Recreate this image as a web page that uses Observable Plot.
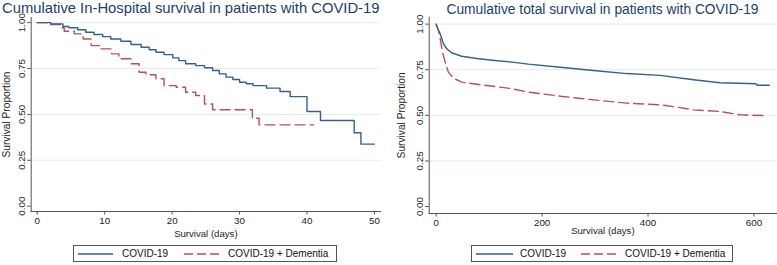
<!DOCTYPE html>
<html>
<head>
<meta charset="utf-8">
<script src="https://cdn.jsdelivr.net/npm/d3@7"></script>
<script src="https://cdn.jsdelivr.net/npm/@observablehq/plot@0.6"></script>
<style>
  body { margin: 0; background: #fff; font-family: "Liberation Sans", Arial, sans-serif; }
  #wrap { position: relative; width: 777px; height: 265px; overflow: hidden; }
  .panel { position: absolute; top: 0; height: 265px; }
  .title { position: absolute; top: 0; white-space: nowrap; line-height: 17px; color: #1a3f6b; }
  .plotbox { position: absolute; top: 12px; left: 0; }
  .plotbox svg { overflow: visible; }
  .legend { position: absolute; top: 245px; height: 17px; border: 1px solid #555; box-sizing: border-box; font-size: 10px; color: #111; }
  .legend .sw { position: absolute; top: 0; }
  .legend .lt { position: absolute; top: 2px; line-height: 12px; white-space: nowrap; }
</style>
</head>
<body>
<div id="wrap">
  <div class="panel" id="pL" style="left:0;width:388px;"></div>
  <div class="panel" id="pR" style="left:388px;width:389px;"></div>
</div>
<script>
// ---- data ----
const titles = ["Cumulative In-Hospital survival in patients with COVID-19", "Cumulative total survival in patients with COVID-19"];
const seriesNames = ["COVID-19", "COVID-19 + Dementia"];
const xLabel = "Survival (days)";
const yLabel = "Survival Proportion";
const yTicks = [0, 0.25, 0.5, 0.75, 1];
const xTicksLeft = [0, 10, 20, 30, 40, 50];
const xTicksRight = [0, 200, 400, 600];

// In-hospital (left panel) Kaplan-Meier steps
const leftCovidDays = [0, 2, 3.8, 4.7, 6, 7.2, 8.4, 9.7, 10.9, 12.4, 13.9, 15.4, 16.6, 17.6, 18.8, 20.1, 21, 22, 23.5, 24.8, 26, 27, 28, 29, 30, 31, 32, 34, 36, 37.5, 40, 42, 47, 48, 50];
const leftCovidSurv = [1, 0.993, 0.979, 0.972, 0.961, 0.948, 0.935, 0.924, 0.911, 0.899, 0.881, 0.866, 0.852, 0.839, 0.826, 0.808, 0.793, 0.776, 0.766, 0.754, 0.739, 0.721, 0.703, 0.69, 0.675, 0.667, 0.657, 0.643, 0.625, 0.597, 0.516, 0.467, 0.40, 0.338, 0.338];
const leftDemDays = [0, 2, 3.5, 4, 5.5, 6.8, 8, 9.2, 11, 12.1, 13.9, 15.1, 16.1, 17.6, 18.8, 20.6, 22, 23.5, 24.8, 26, 31.9, 32.9, 41];
const leftDemSurv = [1, 0.99, 0.972, 0.953, 0.939, 0.911, 0.875, 0.857, 0.83, 0.803, 0.776, 0.73, 0.716, 0.694, 0.657, 0.648, 0.621, 0.603, 0.557, 0.525, 0.479, 0.443, 0.443];

// Total survival (right panel)
const rightCovidDays = [0, 3, 7.5, 13.7, 20, 29, 48, 80, 111, 143, 174, 234, 297, 360, 423, 486, 536, 604, 606, 629];
const rightCovidSurv = [1, 0.975, 0.947, 0.892, 0.865, 0.843, 0.824, 0.81, 0.801, 0.792, 0.781, 0.764, 0.746, 0.729, 0.719, 0.695, 0.679, 0.673, 0.665, 0.665];
const rightDemDays = [0, 4.3, 7.5, 12, 17, 23, 32.6, 48, 80, 111, 143, 174, 234, 297, 360, 423, 455, 486, 536, 574, 617];
const rightDemSurv = [1, 0.965, 0.92, 0.846, 0.792, 0.737, 0.704, 0.682, 0.669, 0.658, 0.646, 0.627, 0.605, 0.585, 0.567, 0.558, 0.545, 0.53, 0.521, 0.503, 0.499];

const colors = ["#33618f", "#b4515b"];
const dash = "10,5";

function toRows(days, surv, s) { return days.map((d, i) => ({day: d, surv: surv[i], series: s})); }

function makePanel(el, cfg) {
  const t = document.createElement("div");
  t.className = "title";
  t.textContent = cfg.title;
  t.style.cssText = cfg.titleStyle;
  el.appendChild(t);

  const rows = [...toRows(cfg.cDays, cfg.cSurv, seriesNames[0]), ...toRows(cfg.dDays, cfg.dSurv, seriesNames[1])];
  const chart = Plot.plot({
    width: cfg.width,
    height: 231,
    marginLeft: cfg.ml,
    marginRight: cfg.mr,
    marginTop: cfg.mt,
    marginBottom: cfg.mb,
    style: {fontFamily: "'Liberation Sans', Arial, sans-serif", background: "transparent", overflow: "visible"},
    x: {domain: cfg.xDomain},
    y: {domain: cfg.yDomain},
    marks: [
      Plot.gridY(yTicks.filter(d => d > 0), {stroke: "#e3edf0", strokeOpacity: 1, strokeWidth: 1}),
      Plot.frame({anchor: "left", stroke: "#555"}),
      Plot.frame({anchor: "bottom", stroke: "#555"}),
      Plot.axisY({ticks: yTicks, tickFormat: d3.format(".2f"), tickRotate: -90, textAnchor: "middle", lineAnchor: "bottom",
                  tickSize: 3.5, tickPadding: 3, fontSize: 9.8, color: "#222", stroke: "#555", label: null}),
      Plot.axisX({ticks: cfg.xTicks, tickSize: 3.5, tickPadding: 2.5, fontSize: 9.8, color: "#222", stroke: "#555", label: null}),
      Plot.text([yLabel], {frameAnchor: "left", rotate: -90, dx: cfg.ylDx, fontSize: 10.2, fill: "#222", textAnchor: "middle", lineAnchor: "middle"}),
      Plot.text([xLabel], {frameAnchor: "bottom", dy: cfg.xlDy, fontSize: 9.6, fill: "#222", textAnchor: "middle", lineAnchor: "middle"}),
      Plot.line(rows.filter(r => r.series === seriesNames[1]), {x: "day", y: "surv", curve: cfg.curve, stroke: colors[1], strokeWidth: 1.4, strokeDasharray: dash}),
      Plot.line(rows.filter(r => r.series === seriesNames[0]), {x: "day", y: "surv", curve: cfg.curve, stroke: colors[0], strokeWidth: 1.4})
    ]
  });
  const pb = document.createElement("div");
  pb.className = "plotbox";
  pb.appendChild(chart);
  el.appendChild(pb);

  // legend
  const lg = document.createElement("div");
  lg.className = "legend";
  lg.style.left = cfg.lg.left + "px";
  lg.style.width = cfg.lg.width + "px";
  seriesNames.forEach((name, i) => {
    const sw = cfg.lg.sw[i];
    const svg = d3.create("svg").attr("class", "sw").attr("width", sw[1] - sw[0]).attr("height", 16)
      .style("left", (sw[0] - cfg.lg.left - 1) + "px");
    svg.append("line").attr("x1", 0).attr("x2", sw[1] - sw[0]).attr("y1", 8).attr("y2", 8)
      .attr("stroke", colors[i]).attr("stroke-width", 1.4).attr("stroke-dasharray", i ? "9,4" : null);
    lg.appendChild(svg.node());
    const tx = document.createElement("div");
    tx.className = "lt";
    tx.style.left = (cfg.lg.tx[i] - cfg.lg.left - 1) + "px";
    tx.textContent = name;
    lg.appendChild(tx);
  });
  el.appendChild(lg);
}

makePanel(document.getElementById("pL"), {
  title: titles[0], titleStyle: "left:2px;font-size:14.8px;",
  cDays: leftCovidDays, cSurv: leftCovidSurv, dDays: leftDemDays, dSurv: leftDemSurv,
  width: 388, ml: 30.7, mr: 8, mt: 5, mb: 32,
  xDomain: [-0.9, 50.9], yDomain: [-0.029, 1.028], xTicks: xTicksLeft,
  ylDx: -24.5, xlDy: 22.5, curve: "step-after",
  lg: {left: 73, width: 264, sw: [[78, 113], [184, 221]], tx: [122, 228]}
});
makePanel(document.getElementById("pR"), {
  title: titles[1], titleStyle: "left:0;width:389px;text-align:center;text-indent:40px;font-size:13.8px;top:1px;",
  cDays: rightCovidDays, cSurv: rightCovidSurv, dDays: rightDemDays, dSurv: rightDemSurv,
  width: 389, ml: 40.7, mr: 1, mt: 4.7, mb: 30,
  xDomain: [-13.2, 642.6], yDomain: [-0.038, 1.038], xTicks: xTicksRight,
  ylDx: -27, xlDy: 17.5, curve: "linear",
  lg: {left: 83, width: 262, sw: [[88, 125], [193, 230]], tx: [132, 237]}
});
</script>
</body>
</html>
